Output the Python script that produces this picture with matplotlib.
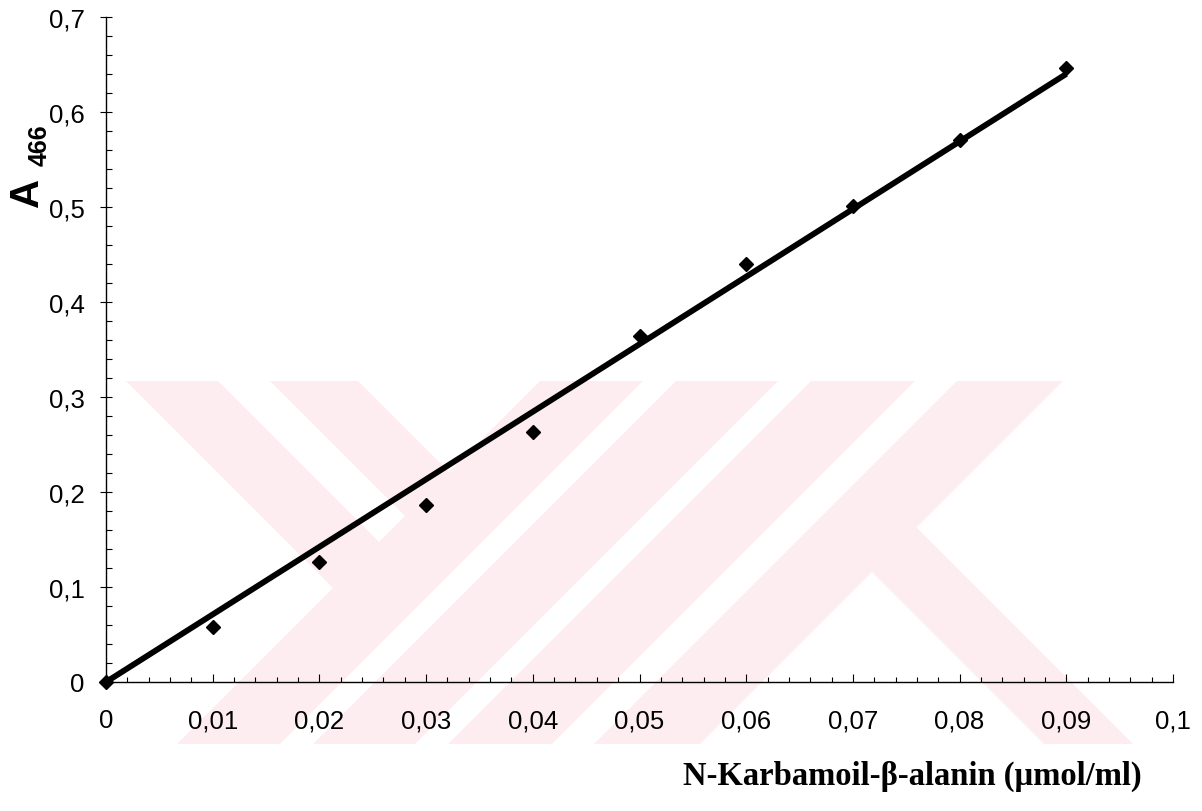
import numpy as np
import matplotlib
matplotlib.use("Agg")
import matplotlib.pyplot as plt
from matplotlib.patches import Polygon
from matplotlib.ticker import MultipleLocator, FuncFormatter

# N-Karbamoil-beta-alanin standard curve (A466)
conc = [0, 0.01, 0.02, 0.03, 0.04, 0.05, 0.06, 0.07, 0.08, 0.09]
absorbance = [0, 0.058, 0.126, 0.186, 0.263, 0.364, 0.440, 0.501, 0.571, 0.646]

x_label = "N-Karbamoil-\u03b2-alanin (\u00b5mol/ml)"

W, H = 1202, 812
fig = plt.figure(figsize=(W / 100, H / 100), dpi=100)


def px(x, y):
    # pixel position -> figure fraction
    return (x / W, 1 - y / H)


# faint watermark in the background (pixel coordinates of the page)
PINK = "#fdedf0"
TOP, BOT = 382, 745
shapes = []
for c1, c2 in [(922, 1025), (1058, 1160), (1193, 1297), (1339, 1445)]:
    shapes.append([(c1 - TOP, TOP), (c2 - TOP, TOP), (c2 - BOT, BOT), (c1 - BOT, BOT)])
for d1, d2 in [(-256, -164), (-112, -24)]:
    stop = 922
    shapes.append([(d1 + TOP, TOP), (d2 + TOP, TOP),
                   ((stop + d2) / 2, (stop - d2) / 2), ((stop + d1) / 2, (stop - d1) / 2)])
d1, d2, start = 299, 388, 1445
shapes.append([((start + d1) / 2, (start - d1) / 2), ((start + d2) / 2, (start - d2) / 2),
               (d2 + BOT, BOT), (d1 + BOT, BOT)])
for pts in shapes:
    fig.patches.append(Polygon([px(x, y) for x, y in pts], closed=True, facecolor=PINK,
                               edgecolor="none", transform=fig.transFigure, zorder=-1))

ax = fig.add_axes([106 / W, 1 - 683 / H, (1173 - 106) / W, (683 - 18) / H])
ax.set_facecolor("none")

# linear fit through the origin
xs = np.array(conc)
ys = np.array(absorbance)
slope = (xs * ys).sum() / (xs * xs).sum()
ax.plot([0, xs.max()], [0, slope * xs.max()], color="black", lw=4.2, solid_capstyle="butt", zorder=2)
ax.plot(conc, absorbance, "D", color="black", ms=7, clip_on=False, zorder=3)

ax.set_xlim(0, 0.1)
ax.set_ylim(0, 0.7)

fmt = FuncFormatter(lambda v, pos: f"{round(v, 3):g}".replace(".", ","))
ax.xaxis.set_major_locator(MultipleLocator(0.01))
ax.xaxis.set_minor_locator(MultipleLocator(0.002))
ax.yaxis.set_major_locator(MultipleLocator(0.1))
ax.yaxis.set_minor_locator(MultipleLocator(0.02))
ax.xaxis.set_major_formatter(fmt)
ax.yaxis.set_major_formatter(fmt)

for side in ["top", "right"]:
    ax.spines[side].set_visible(False)
for side in ["left", "bottom"]:
    ax.spines[side].set_linewidth(1.0)

ax.tick_params(axis="x", which="major", direction="in", length=6, width=0.8, pad=19)
ax.tick_params(axis="x", which="minor", direction="in", length=3.5, width=0.8)
ax.tick_params(axis="y", which="major", direction="inout", length=9, width=0.8, pad=11)
ax.tick_params(axis="y", which="minor", direction="in", length=4, width=0.8)
for lab in ax.get_xticklabels() + ax.get_yticklabels():
    lab.set_fontfamily("Liberation Sans")
    lab.set_fontsize(18.5)

fig.text(*px(683, 776), x_label, ha="left", va="center",
         fontfamily="Liberation Serif", fontweight="bold", fontsize=23.5)
fig.text(*px(27, 192), "A", rotation=90, ha="center", va="center",
         fontfamily="Liberation Sans", fontweight="bold", fontsize=29)
fig.text(*px(40, 145), "466", rotation=90, ha="center", va="center",
         fontfamily="Liberation Sans", fontweight="bold", fontsize=18)

fig.savefig("out.png", dpi=100)
